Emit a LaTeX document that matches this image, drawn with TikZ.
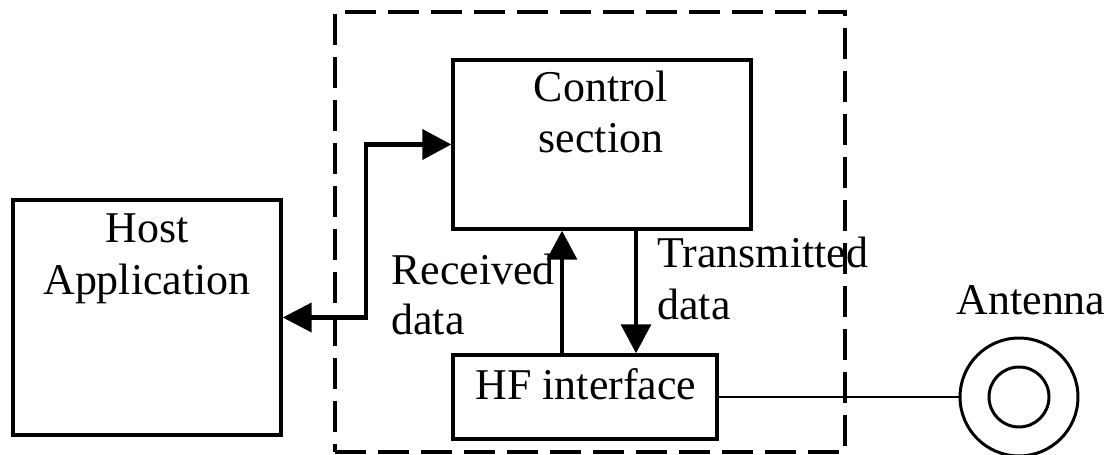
\documentclass[tikz,border=0pt]{standalone}
\usepackage{fontspec}
\setmainfont{Liberation Serif}
\usetikzlibrary{arrows.meta}
\begin{document}
\begin{tikzpicture}[x=0.02cm,y=-0.02cm,
  box/.style={draw,line width=2pt,inner sep=0pt},
  lbl/.style={inner sep=0pt,font=\fontsize{25}{28}\selectfont},
  conn/.style={line width=2pt,-{Triangle[length=0.58cm,width=0.6cm]}},
  biconn/.style={line width=2.3pt,{Triangle[length=0.58cm,width=0.58cm]}-{Triangle[length=0.58cm,width=0.6cm]}},
  ring/.style={draw,circle,line width=1.7pt,inner sep=0pt}]
\useasboundingbox (0,0) rectangle (1115,455);
% dashed enclosure
\node[draw,line width=2pt,dash pattern=on 0.62cm off 0.24cm,inner sep=0pt,
      minimum width=10.2cm,minimum height=8.8cm] (encl) at (590,232) {};
% boxes
\node[box,minimum width=5.36cm,minimum height=4.7cm] (host) at (147,317.5) {};
\node[box,minimum width=5.96cm,minimum height=3.38cm] (ctrl) at (602,144.5) {};
\node[box,minimum width=5.28cm,minimum height=1.68cm] (hf) at (585,397) {};
\node[ring,minimum size=2.36cm] (ant) at (1019,397) {};
\node[ring,minimum size=1.2cm] (antin) at (1019,397) {};
% texts
\node[lbl,anchor=base] (t1) at (147,243) {Host};
\node[lbl,anchor=base] (t2) at (147,295) {Application};
\node[lbl,anchor=base] (t3) at (601,102) {Control};
\node[lbl,anchor=base] (t4) at (601,153) {section};
\node[lbl,anchor=base] (t5) at (586,400) {HF interface};
\node[lbl,anchor=base west] (t6) at (391,285) {Received};
\node[lbl,anchor=base west] (t7) at (391,335) {data};
\node[lbl,anchor=base west] (t8) at (657,268) {Transmitted};
\node[lbl,anchor=base west] (t9) at (657,320) {data};
\node[lbl,anchor=base] (t10) at (1031,315) {Antenna};
% connectors
\coordinate (j) at (366,144.5);
\coordinate (rx) at (562,0);
\coordinate (tx) at (636,0);
\draw[biconn] (host.east) -| (j) -- (ctrl.west);
\draw[conn] (rx |- hf.north) -- (rx |- ctrl.south);
\draw[conn] (tx |- ctrl.south) -- (tx |- hf.north);
\draw[line width=1.6pt] (hf.east) -- (ant.west);
\end{tikzpicture}
\end{document}
